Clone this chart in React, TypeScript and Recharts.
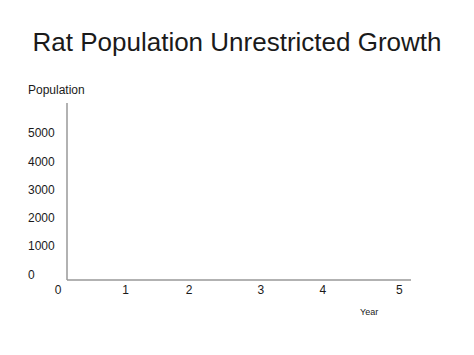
import { ScatterChart, Scatter, XAxis, YAxis } from 'recharts';

// The reference slide shows empty axes: no population has been plotted yet.
const ratPopulation: { year: number; population: number }[] = [];

// Y ticks are evenly spaced; X tick labels are placed unevenly on the slide,
// so their positions (in years) are read off the picture.
const populationTicks = [0, 1000, 2000, 3000, 4000, 5000];
const yearLabels = ['0', '1', '2', '3', '4', '5'];
const yearLabelPositions = [0, 0.99, 1.92, 2.97, 3.88, 5];

// The drawn axis lines run a little past the labelled range.
const yearDomain = [0.13, 5.17];
const populationDomain = [-195, 6060];

const FONT = '"Liberation Sans", Arial, Helvetica, sans-serif';
const TEXT = '#1a1a1a';
const AXIS = '#999999';

function PopulationTick({ x, y, payload }: any) {
  return (
    <text x={x - 39} y={y} dy="0.355em" textAnchor="start" fontSize={12} fill={TEXT} fontFamily={FONT}>
      {payload.value}
    </text>
  );
}

export default function App() {
  return (
    <div style={{ position: 'absolute', left: 0, top: 0, width: 474, height: 355, background: '#fff', fontFamily: FONT }}>
      <div
        style={{
          position: 'absolute',
          left: 0,
          width: 474,
          top: 27,
          textAlign: 'center',
          fontSize: 26,
          lineHeight: '30px',
          color: TEXT,
        }}
      >
        Rat Population Unrestricted Growth
      </div>
      <div style={{ position: 'absolute', left: 28, top: 83, fontSize: 12, lineHeight: '14px', color: TEXT }}>
        Population
      </div>
      <div style={{ position: 'absolute', left: 360, top: 307, fontSize: 9, lineHeight: '11px', color: TEXT }}>
        Year
      </div>

      <ScatterChart width={474} height={355} margin={{ top: 103, right: 63, bottom: 0, left: 28 }}>
        <XAxis
          type="number"
          dataKey="year"
          domain={yearDomain}
          allowDataOverflow
          ticks={yearLabelPositions}
          interval={0}
          tickFormatter={(v: number) => yearLabels[yearLabelPositions.indexOf(v)]}
          tick={{ fontSize: 12, fill: TEXT, fontFamily: FONT }}
          tickLine={false}
          tickSize={0}
          tickMargin={5}
          axisLine={{ stroke: AXIS, strokeWidth: 1.5 }}
          height={75}
        />
        <YAxis
          type="number"
          dataKey="population"
          domain={populationDomain}
          allowDataOverflow
          ticks={populationTicks}
          interval={0}
          tick={<PopulationTick />}
          tickLine={false}
          tickSize={0}
          tickMargin={0}
          axisLine={{ stroke: AXIS, strokeWidth: 1.5 }}
          width={39}
        />
        <Scatter data={ratPopulation} fill="#000" isAnimationActive={false} />
      </ScatterChart>
    </div>
  );
}
